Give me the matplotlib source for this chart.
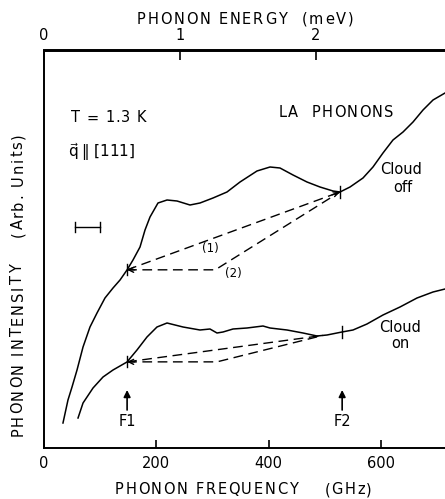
import numpy as np
import matplotlib
matplotlib.use("Agg")
import matplotlib.pyplot as plt
from matplotlib.font_manager import FontProperties, findfont
from matplotlib.ft2font import FT2Font

# ---- data: phonon intensity spectra (arb. units) vs frequency (GHz) ----
freq_off = [33.8, 42.7, 49.9, 58.8, 69.5, 81.9, 94.4, 108.6, 122.9, 135.4,
            147.8, 158.5, 171.0, 179.9, 188.8, 203.0, 219.1, 236.9, 260.0, 277.8,
            301.0, 325.9, 349.1, 379.3, 402.5, 420.3, 443.5, 468.4, 491.5, 514.7,
            527.2, 545.0, 568.1, 585.9, 603.7, 621.5, 639.4, 657.2, 675.0, 692.8,
            714.2, 732.0]
int_off = [6.25, 12.0, 15.25, 19.5, 25.25, 30.25, 33.75, 37.5, 40.0, 42.0,
           44.5, 47.0, 50.25, 54.5, 57.75, 61.25, 62.0, 61.75, 60.75, 61.25,
           62.5, 64.0, 66.5, 69.25, 70.25, 70.0, 68.25, 66.5, 65.25, 64.25,
           64.0, 65.25, 67.5, 70.25, 73.75, 77.0, 79.0, 81.5, 84.5, 87.0,
           88.75, 89.5]

freq_on = [60.6, 69.5, 87.3, 105.1, 122.9, 147.8, 165.6, 183.4, 201.2, 219.1,
           247.6, 277.8, 295.6, 308.1, 318.8, 336.6, 361.5, 390.0, 402.5, 432.8,
           461.3, 486.2, 504.0, 530.7, 550.3, 575.2, 603.7, 634.0, 664.3, 692.8,
           714.2, 732.0]
int_on = [7.5, 11.25, 15.0, 17.75, 19.5, 21.5, 24.5, 27.75, 30.25, 31.25,
          30.25, 29.5, 29.75, 28.75, 29.0, 29.75, 30.0, 30.5, 30.0, 29.5,
          28.75, 28.0, 28.25, 29.0, 29.5, 31.0, 33.25, 35.25, 37.5, 39.0,
          39.75, 40.25]

F1 = 148.0          # GHz
F2 = 527.0          # GHz, cloud-off branch
F2_on = 531.0       # GHz, cloud-on branch
knee_off = 305.0    # corner of construction line (2)
knee_on = 308.0
join_on = 497.0     # where the cloud-on construction lines meet
resolution = [55.0, 100.0]   # frequency resolution bar, GHz
freq_ticks = [0, 200, 400, 600]
energy_ticks = [0, 1, 2]
GHZ_PER_MEV = 241.8

# ---- figure geometry ----
W, H, DPI = 445, 499, 100
fig = plt.figure(figsize=(W / DPI, H / DPI), dpi=DPI)
ax = fig.add_axes([44 / W, (H - 448) / H, 760 * 0.5615 / W, (448 - 50.5) / H])
ax.set_xlim(0, 760)
ax.set_ylim(0, 99.375)

for side in ("left", "top", "bottom"):
    ax.spines[side].set_linewidth(1.4)
ax.spines["right"].set_visible(False)
ax.set_yticks([])
ax.set_xticks(freq_ticks)
ax.set_xticklabels([str(t) for t in freq_ticks])
ax.tick_params(axis="x", direction="in", length=6, width=1.2,
               labelsize=10.5, pad=5.5)

sec = ax.secondary_xaxis("top", functions=(lambda f: f / GHZ_PER_MEV,
                                           lambda e: e * GHZ_PER_MEV))
sec.set_xticks(energy_ticks)
sec.set_xticklabels([str(t) for t in energy_ticks])
sec.tick_params(direction="in", length=7, width=1.2, labelsize=10.5, pad=5.5)
sec.spines["top"].set_linewidth(1.4)

# ---- spectra ----
ax.plot(freq_off, int_off, color="black", lw=1.1)
ax.plot(freq_on, int_on, color="black", lw=1.1)

dash = (0, (7, 4))
y1_off = np.interp(F1, freq_off, int_off)
y2_off = np.interp(F2, freq_off, int_off)
ax.plot([F1, F2], [y1_off, y2_off], color="black", lw=1.0, ls=dash)
ax.plot([F1, knee_off, F2], [y1_off, y1_off, y2_off], color="black", lw=1.0, ls=dash)

y1_on = np.interp(F1, freq_on, int_on)
yj_on = np.interp(join_on, freq_on, int_on)
y2_on = np.interp(F2_on, freq_on, int_on)
ax.plot([F1, join_on], [y1_on, yj_on], color="black", lw=1.0, ls=dash)
ax.plot([F1, knee_on, join_on], [y1_on, y1_on, yj_on], color="black", lw=1.0, ls=dash)

# frequency markers on the curves
for fx, fy in [(F1, y1_off), (F2, y2_off), (F1, y1_on), (F2_on, y2_on)]:
    ax.plot([fx, fx], [fy - 1.4, fy + 1.4], color="black", lw=1.0)

head = dict(arrowstyle="->", color="black", lw=1.0, mutation_scale=9,
            shrinkA=0, shrinkB=0)
ax.annotate("", xy=(F1, y1_off), xytext=(F1 + 14, y1_off), arrowprops=head)
ax.annotate("", xy=(F1, y1_on), xytext=(F1 + 14, y1_on), arrowprops=head)
ax.annotate("", xy=(F2, y2_off),
            xytext=(F2 - 14, y2_off - 14 * (y2_off - y1_off) / (F2 - F1)),
            arrowprops=head)

# F1 / F2 arrows
up = dict(arrowstyle="-|>", color="black", lw=1.2, mutation_scale=10,
          shrinkA=0, shrinkB=0)
for fx, name in [(F1, "F1"), (F2_on, "F2")]:
    ax.annotate("", xy=(fx, 14.5), xytext=(fx, 9.5), arrowprops=up)
    ax.text(fx, 6.5, name, ha="center", va="center", fontsize=10.5)

# resolution bar
ry = 55.25
ax.plot(resolution, [ry, ry], color="black", lw=1.0)
for rx in resolution:
    ax.plot([rx, rx], [ry - 1.3, ry + 1.3], color="black", lw=1.0)

# ---- letter-spaced labels ----
FONT_FILE = findfont(FontProperties(family="DejaVu Sans"))


def advances(s, size):
    ft = FT2Font(FONT_FILE)
    ft.set_size(size, DPI)
    return [ft.load_char(ord(c)).linearHoriAdvance / 65536 for c in s]


def tracked(s, x, y, size, track, vertical=False):
    """Centred, letter-spaced text; x, y in pixels from the top-left corner.
    Horizontal: x is the centre, y the baseline. Vertical: x is the baseline,
    y the centre, reading upward."""
    adv = advances(s, size)
    total = sum(adv) + track * (len(s) - 1)
    cur = 0.0
    for c, a in zip(s, adv):
        if c != " ":
            if not vertical:
                fig.text((x - total / 2 + cur) / W, 1 - y / H, c, fontsize=size,
                         ha="left", va="baseline")
            else:
                fig.text(x / W, 1 - (y + total / 2 - cur) / H, c, fontsize=size,
                         rotation=90, rotation_mode="anchor",
                         ha="left", va="baseline")
        cur += a + track


tracked("PHONON ENERGY  (meV)", 245, 23.5, 10.5, 1.75)
tracked("PHONON FREQUENCY    (GHz)", 243.5, 494.5, 10.5, 1.6)
tracked("PHONON INTENSITY    (Arb. Units)", 22.5, 285, 10.5, 1.8, vertical=True)
tracked("T = 1.3 K", 108.5, 122.5, 10.5, 0.9)
tracked("LA  PHONONS", 336, 116.5, 10.5, 1.3)


def ptext(x, y, s, **kw):
    fig.text(x / W, 1 - y / H, s, ha="center", va="center", **kw)


ptext(102, 152, r"$\vec{\mathrm{q}}\;\Vert\;[111]$", fontsize=11)
ptext(401, 169, "Cloud", fontsize=10.5)
ptext(403, 188, "off", fontsize=10.5)
ptext(400, 327, "Cloud", fontsize=10.5)
ptext(400, 344, "on", fontsize=10.5)
ptext(210, 248, "(1)", fontsize=8.5)
ptext(233, 273, "(2)", fontsize=8.5)

fig.savefig("out.png", dpi=DPI)
